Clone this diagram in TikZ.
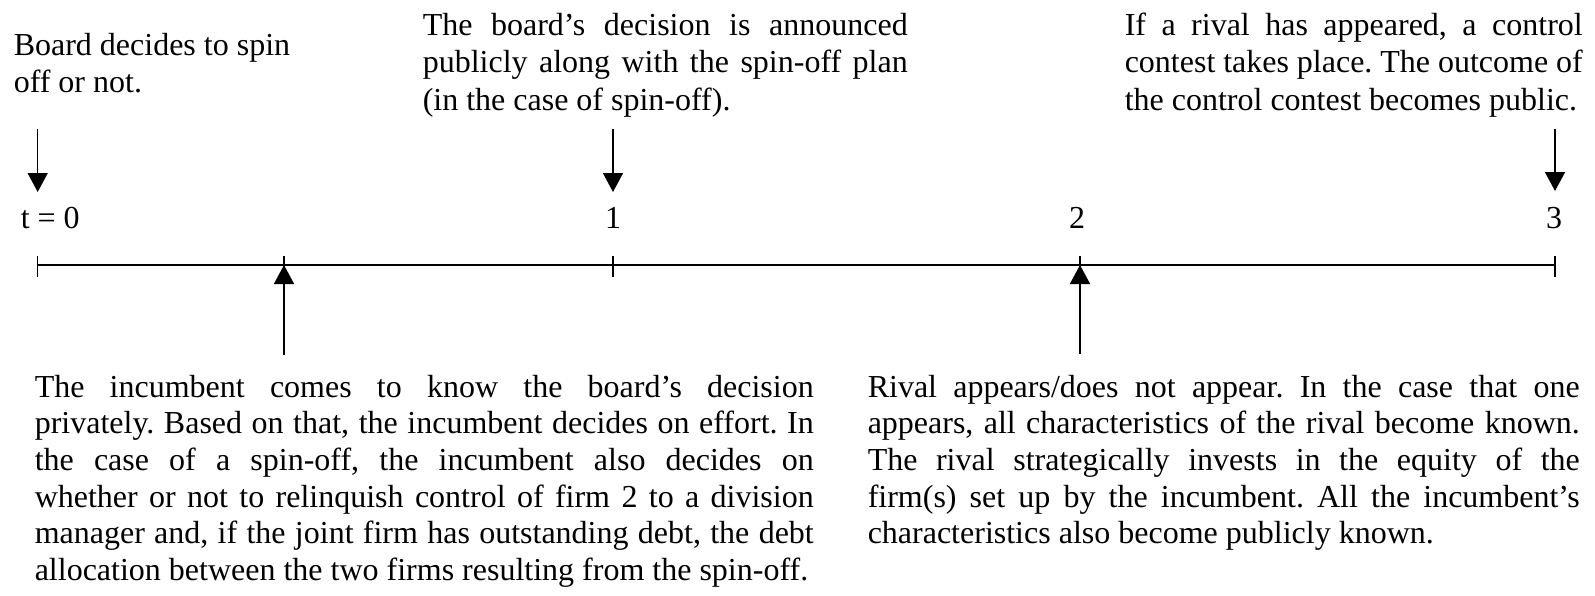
\documentclass[tikz,border=0pt]{standalone}
\usepackage{fontspec}
\setmainfont{Liberation Serif}
\usetikzlibrary{arrows.meta}
\newcommand\jl[1]{\hbox to\hsize{#1}}
\frenchspacing
\begin{document}
\frenchspacing
\begin{tikzpicture}[x=1pt,y=-1pt,line width=1.5pt,
  toptxt/.style={inner sep=0pt,anchor=base west,font=\fontsize{32}{37.8}\selectfont},
  bottxt/.style={inner sep=0pt,anchor=base west,font=\fontsize{32}{36.7}\selectfont},
  num/.style={inner sep=0pt,anchor=base,font=\fontsize{32}{37.8}\selectfont},
  evt/.style={-{Triangle[width=20pt,length=19pt]}},
  tickmark/.style={line width=1.5pt}]
\useasboundingbox (0,0) rectangle (1595,595);

% axis
\coordinate (L) at (37.7,265);
\coordinate (R) at (1555,265);
\draw (L) -- (R);
\foreach \x/\n in {37.7/k0,284/ka,613/k1,1080/kb,1555/k3}{
  \coordinate (\n t) at (\x,256);
  \coordinate (\n b) at (\x,277);
  \draw[tickmark] (\n t) -- (\n b);
}

% time labels
\node[inner sep=0pt,anchor=base west,font=\fontsize{32}{37.8}\selectfont] (t0) at (20,228) {t = 0};
\node[num] (t1) at (613,228) {1};
\node[num] (t2) at (1077,228) {2};
\node[num] (t3) at (1554,228) {3};

% top texts
\node[toptxt] (d0) at (13,55) {\parbox[t]{300pt}{\hbox{Board decides to spin}\hbox{off or not.}}};
\node[toptxt] (d1) at (422,35) {\parbox[t]{485pt}{\jl{The board’s decision is announced}\jl{publicly along with the spin-off plan}\hbox{(in the case of spin-off).}}};
\node[toptxt] (d3) at (1124,35) {\parbox[t]{458pt}{\jl{If a rival has appeared, a control}\jl{contest takes place. The outcome of}\hbox{the control contest becomes public.}}};

% bottom texts
\node[bottxt] (da) at (34,397) {\parbox[t]{779pt}{%
\jl{The incumbent comes to know the board’s decision}%
\jl{privately. Based on that, the incumbent decides on effort. In}%
\jl{the case of a spin-off, the incumbent also decides on}%
\jl{whether or not to relinquish control of firm 2 to a division}%
\jl{manager and, if the joint firm has outstanding debt, the debt}%
\hbox{allocation between the two firms resulting from the spin-off.}}};
\node[bottxt] (db) at (867,397) {\parbox[t]{712pt}{%
\jl{Rival appears/does not appear. In the case that one}%
\jl{appears, all characteristics of the rival become known.}%
\jl{The rival strategically invests in the equity of the}%
\jl{firm(s) set up by the incumbent. All the incumbent’s}%
\hbox{characteristics also become publicly known.}}};

% down arrows
\coordinate (s0) at (37.7,129);  \coordinate (e0) at (37.7,192);
\coordinate (s1) at (613,129);   \coordinate (e1) at (613,192);
\coordinate (s3) at (1555,129);  \coordinate (e3) at (1555,191);
\draw[evt] (s0) -- (e0);
\draw[evt] (s1) -- (e1);
\draw[evt] (s3) -- (e3);

% up arrows
\coordinate (sa) at (284,355);   \coordinate (ea) at (284,265);
\coordinate (sb) at (1080,354);  \coordinate (eb) at (1080,265);
\draw[evt] (sa) -- (ea);
\draw[evt] (sb) -- (eb);
\end{tikzpicture}
\end{document}
